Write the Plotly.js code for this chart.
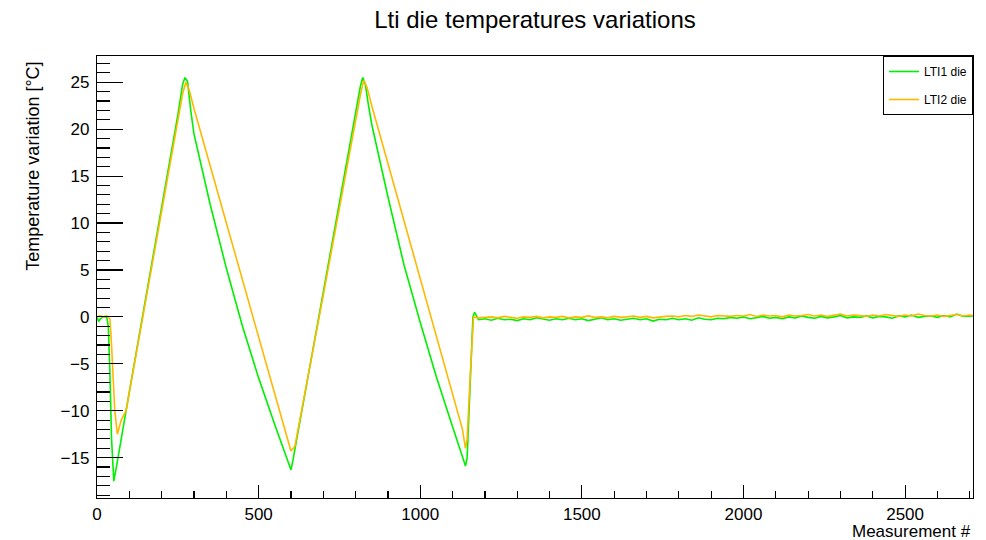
<!DOCTYPE html>
<html>
<head>
<meta charset="utf-8">
<script src="https://cdn.plot.ly/plotly-3.0.1.min.js"></script>
<style>html,body{margin:0;padding:0;background:#fff;}#chart{width:986px;height:540px;}</style>
</head>
<body>
<div id="chart"></div>
<script>
// LTI1 die (green) — ramp section
const lti1RampX = [0,5,10,20,30,35,40,45,52,60,100,150,200,250,265,272,280,290,300,350,400,450,500,550,590,600,605,650,700,750,800,815,822,830,840,850,900,950,1000,1050,1100,1130,1140,1145,1155,1163,1168];
const lti1RampY = [0,-0.5,-0.2,0,0,-1,-6,-13,-17.5,-16,-8,2,11.7,21.5,24.8,25.5,25.1,22,19.5,12,5.2,-1,-6.5,-11.5,-15.3,-16.3,-15.5,-6.9,2.5,11.9,21.4,24.6,25.5,24.8,22.5,20.5,12.8,5.5,-0.6,-6.4,-11.7,-15,-15.9,-15,-6,0,0.5];
// LTI2 die (orange) — ramp section
const lti2RampX = [0,10,20,30,40,45,55,63,75,90,150,200,250,265,275,285,300,350,400,450,500,550,590,600,612,650,700,750,800,815,825,835,850,900,950,1000,1050,1100,1130,1140,1145,1155,1165];
const lti2RampY = [0,0.1,0,0.1,-0.2,-3,-10,-12.5,-11,-10,1.6,11.4,21.1,23.8,25,24.2,22.2,16.1,10,3.9,-2.2,-8.3,-13.2,-14.3,-13.8,-7,2.3,11.6,21,23.7,25.2,24.5,22.5,16.4,10.3,4.2,-1.9,-8,-11.9,-14,-13,-6,0];
// Flat section (shared measurement numbers)
const flatX = [1180,1200,1220,1240,1260,1280,1300,1320,1340,1360,
  1380,1400,1420,1440,1460,1480,1500,1520,1540,1560,
  1580,1600,1620,1640,1660,1680,1700,1720,1740,1760,
  1780,1800,1820,1840,1860,1880,1900,1920,1940,1960,
  1980,2000,2020,2040,2060,2080,2100,2120,2140,2160,
  2180,2200,2220,2240,2260,2280,2300,2320,2340,2360,
  2380,2400,2420,2440,2460,2480,2500,2520,2540,2560,
  2580,2600,2620,2640,2660,2680,2700,2710];
const lti1FlatY = [-0.3,-0.2,-0.35,-0.15,-0.3,-0.25,-0.4,-0.2,-0.3,-0.1,
  -0.25,-0.35,-0.2,-0.3,-0.15,-0.3,-0.2,-0.4,-0.25,-0.1,
  -0.3,-0.2,-0.35,-0.25,-0.15,-0.3,-0.2,-0.45,-0.25,-0.3,
  -0.15,-0.3,-0.2,-0.35,-0.1,-0.25,-0.3,-0.15,-0.2,-0.05,
  -0.15,0.0,-0.2,-0.1,0.05,-0.15,-0.05,-0.2,0.0,-0.1,
  0.1,-0.05,-0.15,0.05,-0.1,0.0,0.15,-0.1,0.0,-0.05,
  0.1,-0.1,0.05,0.0,-0.15,0.1,0.0,0.2,-0.05,0.05,
  0.1,-0.05,0.15,0.0,0.3,0.05,0.1,0.1];
const lti2FlatY = [-0.1,-0.05,0.0,-0.1,0.05,-0.05,-0.15,0.0,-0.05,0.05,
  -0.1,0.0,-0.05,0.05,-0.1,0.0,-0.05,0.1,-0.05,0.0,
  -0.1,0.05,-0.05,0.0,0.1,-0.05,0.05,-0.1,0.0,0.05,
  0.1,0.0,0.15,0.05,0.2,0.1,0.0,0.15,0.1,0.05,
  0.15,0.1,0.25,0.05,0.2,0.1,0.15,0.0,0.2,0.1,
  0.15,0.25,0.1,0.2,0.05,0.15,0.3,0.1,0.2,0.15,
  0.05,0.2,0.1,0.25,0.15,0.05,0.2,0.1,0.3,0.15,
  0.1,0.2,0.05,0.15,0.25,0.1,0.2,0.15];

const seriesNames = ['LTI1 die','LTI2 die'];
const titleText = 'Lti die temperatures variations';
const xTitle = 'Measurement #';
const yTitle = 'Temperature variation [°C]';

const traces = [
  {x: lti1RampX.concat(flatX), y: lti1RampY.concat(lti1FlatY), name: seriesNames[0],
   mode: 'lines', line: {color: '#00f000', width: 1.6}, legendgroup: 'a'},
  {x: lti2RampX.concat(flatX), y: lti2RampY.concat(lti2FlatY), name: seriesNames[1],
   mode: 'lines', line: {color: '#ffb800', width: 1.6}, legendgroup: 'b'}
];

const font = {family: 'Liberation Sans, Arial, sans-serif', color: '#000'};
const layout = {
  width: 986, height: 540,
  margin: {l: 97, r: 13, t: 56, b: 42},
  paper_bgcolor: '#fff', plot_bgcolor: '#fff',
  font: Object.assign({size: 17}, font),
  title: {text: titleText, x: 0.5, xref: 'paper', xanchor: 'center', y: 0.963, yanchor: 'middle',
          font: Object.assign({size: 24}, font)},
  showlegend: true,
  legend: {x: 1, xanchor: 'right', y: 1, yanchor: 'top', bgcolor: '#fff', bordercolor: '#000', borderwidth: 1,
           font: Object.assign({size: 12}, font), traceorder: 'grouped', tracegroupgap: 9, itemwidth: 30},
  xaxis: {range: [0, 2710], showgrid: false, zeroline: false, showline: true, linecolor: '#000', linewidth: 1.2, mirror: true,
          ticks: 'inside', ticklen: 13, tickwidth: 1.2, tickcolor: '#000', dtick: 500, tick0: 0,
          minor: {ticks: 'inside', ticklen: 7, dtick: 100, tickwidth: 1.2, tickcolor: '#000', showgrid: false},
          tickfont: Object.assign({size: 17}, font)},
  yaxis: {range: [-19.3, 27.8], showgrid: false, zeroline: false, showline: true, linecolor: '#000', linewidth: 1.2, mirror: true,
          ticks: 'inside', ticklen: 26, tickwidth: 1.2, tickcolor: '#000', dtick: 5, tick0: 0,
          minor: {ticks: 'inside', ticklen: 13, dtick: 1, tickwidth: 1.2, tickcolor: '#000', showgrid: false},
          tickfont: Object.assign({size: 17}, font), ticklabelstandoff: 3},
  annotations: [
    {text: yTitle, xref: 'paper', yref: 'paper', x: -0.074, y: 1, xanchor: 'center', yanchor: 'top',
     yshift: -4, textangle: -90, showarrow: false, font: Object.assign({size: 18}, font)},
    {text: xTitle, xref: 'paper', yref: 'paper', x: 1, y: 0, xanchor: 'right', yanchor: 'top',
     yshift: -22, showarrow: false, font: Object.assign({size: 17}, font)}
  ]
};

Plotly.newPlot('chart', traces, layout, {displayModeBar: false, staticPlot: true});
</script>
</body>
</html>
